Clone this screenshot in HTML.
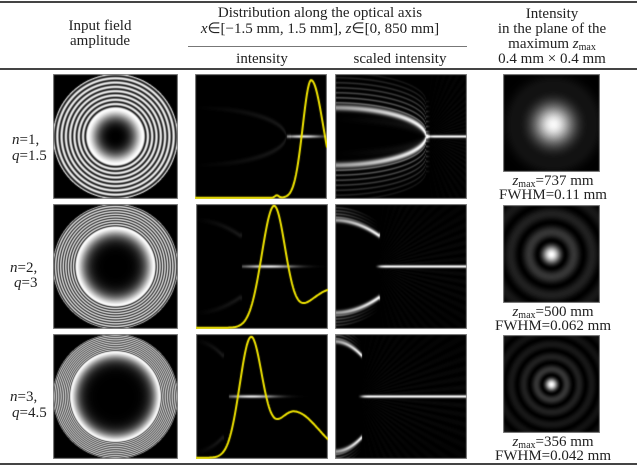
<!DOCTYPE html>
<html><head><meta charset="utf-8"><style>
html,body{margin:0;padding:0;background:#fff;}
body{width:637px;height:466px;position:relative;overflow:hidden;font-family:"Liberation Serif","Times New Roman",serif;color:#222;}
.t{position:absolute;font-size:15px;line-height:15px;text-align:center;white-space:nowrap;transform:translateX(-50%);}
.l{position:absolute;font-size:15px;line-height:15px;white-space:nowrap;}
i{font-style:italic;}
sub{font-size:10px;vertical-align:-2px;font-style:normal;}
canvas{position:absolute;display:block;}
.hr{position:absolute;background:#444;}
</style></head><body>
<div class="hr" style="left:0;top:1px;width:637px;height:2px;"></div>
<div class="hr" style="left:0;top:68px;width:637px;height:2px;"></div>
<div class="hr" style="left:188px;top:46px;width:279px;height:1px;background:#777"></div>
<div class="hr" style="left:0;top:463px;width:637px;height:2px;"></div>

<div class="t" style="left:100px;top:19px;">Input field<br>amplitude</div>
<div class="t" style="left:320px;top:6px;">Distribution along the optical axis</div>
<div class="t" style="left:320px;top:22px;"><i>x</i>∈[−1.5 mm, 1.5 mm], <i>z</i>∈[0, 850 mm]</div>
<div class="t" style="left:262px;top:52px;">intensity</div>
<div class="t" style="left:400px;top:52px;">scaled intensity</div>
<div class="t" style="left:552px;top:7px;">Intensity</div>
<div class="t" style="left:552px;top:22px;">in the plane of the</div>
<div class="t" style="left:552px;top:37px;">maximum <i>z</i><sub>max</sub></div>
<div class="t" style="left:552px;top:52px;">0.4 mm × 0.4 mm</div>

<div class="l" style="left:12px;top:133px;"><i>n</i>=1,</div>
<div class="l" style="left:12px;top:149px;"><i>q</i>=1.5</div>
<div class="l" style="left:10px;top:261px;"><i>n</i>=2,</div>
<div class="l" style="left:14px;top:276px;"><i>q</i>=3</div>
<div class="l" style="left:10px;top:390px;"><i>n</i>=3,</div>
<div class="l" style="left:12px;top:406px;"><i>q</i>=4.5</div>

<div class="t" style="left:553px;top:174px;"><i>z</i><sub>max</sub>=737 mm</div>
<div class="t" style="left:553px;top:188px;">FWHM=0.11 mm</div>
<div class="t" style="left:553px;top:305px;"><i>z</i><sub>max</sub>=500 mm</div>
<div class="t" style="left:553px;top:319px;">FWHM=0.062 mm</div>
<div class="t" style="left:553px;top:435px;"><i>z</i><sub>max</sub>=356 mm</div>
<div class="t" style="left:553px;top:449px;">FWHM=0.042 mm</div>

<canvas id="a0" width="125" height="125" style="left:53px;top:74px"></canvas>
<canvas id="a1" width="125" height="125" style="left:53px;top:204px"></canvas>
<canvas id="a2" width="125" height="125" style="left:53px;top:334px"></canvas>
<canvas id="b0" width="132" height="125" style="left:195px;top:74px"></canvas>
<canvas id="b1" width="132" height="125" style="left:196px;top:204px"></canvas>
<canvas id="b2" width="132" height="125" style="left:196px;top:334px"></canvas>
<canvas id="c0" width="132" height="125" style="left:335px;top:74px"></canvas>
<canvas id="c1" width="132" height="125" style="left:335px;top:204px"></canvas>
<canvas id="c2" width="132" height="125" style="left:335px;top:334px"></canvas>
<canvas id="d0" width="97" height="98" style="left:503px;top:74px"></canvas>
<canvas id="d1" width="97" height="98" style="left:503px;top:205px"></canvas>
<canvas id="d2" width="97" height="98" style="left:503px;top:335px"></canvas>

<script>
function draw(id,fn){var c=document.getElementById(id),w=c.width,h=c.height,ctx=c.getContext('2d');
var im=ctx.createImageData(w,h),d=im.data;
for(var y=0;y<h;y++)for(var x=0;x<w;x++){var v=fn((x+.5)/w,(y+.5)/h,x,y,w,h);v=Math.max(0,Math.min(1,v));var k=(y*w+x)*4;d[k]=d[k+1]=d[k+2]=Math.round(v*255);d[k+3]=255;}
ctx.putImageData(im,0,0);
ctx.strokeStyle='#888';ctx.lineWidth=1;ctx.strokeRect(.5,.5,w-1,h-1);return ctx;}
function g(x,s){return Math.exp(-x*x/(s*s));}
[[0.45,8,3],[0.63,9,5],[0.72,10,7]].forEach(function(p,i){
 var r1=p[0],N=p[1],pw=p[2];
 function f(r){if(r>1)return 0;if(r<r1)return Math.sin(Math.PI/2*Math.pow(r/r1,pw));
   return Math.pow(Math.abs(Math.sin(Math.PI/2+N*Math.PI*(r-r1)/(1-r1))),1.5);}
 draw('a'+i,function(u,v,x,y,w,h){var s=0;for(var a=0;a<3;a++)for(var b=0;b<3;b++){var uu=(x+(a+.5)/3)/w,vv=(y+(b+.5)/3)/h;s+=f(Math.hypot(uu-.5,vv-.5)*2);}return s/9;});
});
var Y=[
 function(x){var s=x<.88?.09:.13;return .965*g(x-.88,s)+.02*g(x-.62,.02);},
 function(x){var s=x<.59?.13:.12;return .97*g(x-.59,s)+.32*g(x-1.05,.3)*(x>.3?1:g(x-.3,.1));},
 function(x){var s=.12;var b=x<.74?.2:.27;return .965*g(x-.415,s)+.38*g(x-.74,b)*(x>.2?1:g(x-.2,.08));}
];
var L=[[.82,.1,.7],[.55,.14,.35],[.42,.13,.25]];
var A=[{d0:.23,d1:0,x1:.69,t:0},{d0:.37,d1:.25,x1:.33,t:1},{d0:.44,d1:.33,x1:.2,t:1}];
function arcd(P,u){if(P.t==0)return P.d0*Math.sqrt(Math.max(0,1-(u/P.x1)*(u/P.x1)));return P.d0-(P.d0-P.d1)*Math.pow(u/P.x1,2);}
for(var i=0;i<3;i++){(function(i){
 var P=A[i],l=L[i];
 var ctx=draw('b'+i,function(u,v){var dy=Math.abs(v-.5);var val=0;
  if(u<P.x1*1.05){var d=arcd(P,Math.min(u,P.x1));val+=.1*g(dy-d,.02)*(u/P.x1);}
  if(u>l[2]){val+=.9*g(u-l[0],l[1]*1.4)*g(dy,.012);}
  return val;});
 ctx.strokeStyle='#f2e600';ctx.lineWidth=2;ctx.beginPath();
 for(var x=0;x<=132;x++){var yy=(0.99-0.975*Y[i](x/132))*125;if(x==0)ctx.moveTo(x,yy);else ctx.lineTo(x,yy);}
 ctx.stroke();
})(i);}
for(var i=0;i<3;i++){(function(i){var P=A[i];
 draw('c'+i,function(u,v){var dy=Math.abs(v-.5),val=0;
  var uu=Math.min(u,P.x1);
  if(u<P.x1*1.04){
   var d=arcd(P,uu);var fade=u>P.x1?g(u-P.x1,.02):1;
   val+=(0.6+0.4*(uu/P.x1))*g(dy-d,i==0?.024:.018)*fade;
   var nk=i==0?7:4;
   for(var k=1;k<=nk;k++){var dk=d+k*(i==0?.04:.025);if(dk<.5)val+=(.4-.045*k)*g(dy-dk,.008)*fade*(i==0?1:Math.max(0,1-u/P.x1));}
   if(i==0)val+=.08*g(dy-d*.6,.03)*(uu/P.x1);
  }
  var xs=P.x1-(i==0?.02:.03);
  if(u>xs){val+=1*g(dy,.011)*(1-g(u-xs,.04));
   var ang=Math.atan2(v-.5,u-xs);val+=.035*(.5+.5*Math.cos(ang*70))*Math.min(1,(u-xs)*5)*(1-dy);}
  return val;});
})(i);}
function J0(x){var s=0,n=40;for(var k=0;k<n;k++){var t=(k+.5)/n*Math.PI;s+=Math.cos(x*Math.sin(t));}return s/n;}
draw('d0',function(u,v,x,y){var r=Math.hypot(x-50,y-50);return Math.exp(-r*r/(2*14*14))*0.98+0.06*g(r-42,8);});
draw('d1',function(u,v,x,y){var r=Math.hypot(x-48,y-49);var a=Math.abs(J0(r*2.405/14));return Math.pow(a,1.7);});
draw('d2',function(u,v,x,y){var r=Math.hypot(x-48,y-49);var a=Math.abs(J0(r*2.405/9.5));return Math.pow(a,1.7);});
</script>
</body></html>
